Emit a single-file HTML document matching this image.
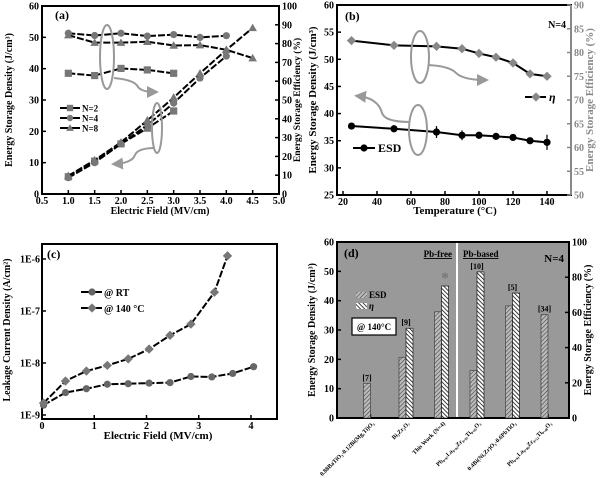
<!DOCTYPE html>
<html><head><meta charset="utf-8"><style>
body{margin:0;background:#fff}
svg{display:block;font-family:"Liberation Serif",serif;font-weight:bold}
</style></head><body>
<svg id="s" width="600" height="478" viewBox="0 0 600 478"></svg>
<script>
// ---- data panel a ----
const aFieldN2=[1,1.5,2,2.5,3];
const aEsdN2=[5.5,10.5,16,21,26.5];
const aEffN2=[64.2,63,66.8,66,64.2];
const aFieldN4=[1,1.5,2,2.5,3,3.5,4];
const aEsdN4=[5.2,10,16,22,29,37,44];
const aEffN4=[85.5,84.3,85.5,84,84.8,83.3,84.2];
const aFieldN8=[1,1.5,2,2.5,3,3.5,4,4.5];
const aEsdN8=[5.8,10.8,16.5,23.5,30.8,38.5,46,53];
const aEffN8=[84.5,80.5,80.5,81,79,79.2,76.7,72.3];
const aXTicks=[0.5,1,1.5,2,2.5,3,3.5,4,4.5,5];
const aYTicks=[0,10,20,30,40,50,60];
const aY2Ticks=[0,10,20,30,40,50,60,70,80,90,100];
// ---- data panel b ----
const bTemp=[25,50,75,90,100,110,120,130,140];
const bEsd=[37.7,37.2,36.6,36,36,35.8,35.6,35,34.7];
const bEsdErr=[0.6,0.4,1.1,0.9,0.4,0.6,0.4,0.5,1.4];
const bEff=[82.5,81.5,81.3,80.8,79.8,79,77.8,75.5,75];
const bEffErr=[0.7,0.6,0.5,0.4,0.4,0.4,0.4,0.4,0.8];
const bXTicks=[20,40,60,80,100,120,140];
const bYTicks=[25,30,35,40,45,50,55,60];
const bY2Ticks=[50,55,60,65,70,75,80,85,90];
// ---- data panel c ----
const cFieldRT=[0.03,0.45,0.85,1.25,1.65,2.05,2.45,2.85,3.25,3.65,4.05];
const cLeakRT=[1.55e-9,2.7e-9,3.2e-9,3.9e-9,4.0e-9,4.1e-9,4.2e-9,5.5e-9,5.4e-9,6.3e-9,8.5e-9];
const cFieldHot=[0.03,0.45,0.85,1.25,1.65,2.05,2.45,2.85,3.3,3.55];
const cLeakHot=[1.7e-9,4.5e-9,7e-9,9e-9,1.2e-8,1.85e-8,3.4e-8,5.6e-8,2.3e-7,1.15e-6];
const cXTicks=[0,1,2,3,4];
const cYTicks=[-9,-8,-7,-6];
// ---- data panel d ----
const dCats=["0.88BaTiO3-0.12Bi(Mg,Ti)O3","Bi2Zr2O7","This Work (N=4)","Pb0.97La0.02Zr0.95Ti0.05O3","0.4Bi(Ni,Zr)O3-0.6PbTiO3","Pb0.91La0.06Zr0.52Ti0.48O3"];
const dCatLabels=["0.88BaTiO₃-0.12Bi(Mg,Ti)O₃","Bi₂Zr₂O₇","This Work (N=4)","Pb₀.₉₇La₀.₀₂Zr₀.₉₅Ti₀.₀₅O₃","0.4Bi(Ni,Zr)O₃-0.6PbTiO₃","Pb₀.₉₁La₀.₀₆Zr₀.₅₂Ti₀.₄₈O₃"];
const dRefs=["[7]","[9]","","[10]","[5]","[34]"];
const dEsd=[11.8,20.7,36.2,16.2,38.2,35.2];
const dEff=[null,51,75,83,71,null];
const dYTicks=[0,10,20,30,40,50,60];
const dY2Ticks=[0,20,40,60,80,100];

const S=document.getElementById('s');const NS='http://www.w3.org/2000/svg';
function el(t,a,p){const e=document.createElementNS(NS,t);for(const k in a)e.setAttribute(k,a[k]);(p||S).appendChild(e);return e;}
function txt(x,y,s,a,p){const e=el('text',Object.assign({x:x,y:y,'font-size':10,'text-anchor':'middle'},a||{}),p);e.textContent=s;return e;}
function lin(d0,d1,r0,r1){return v=>r0+(v-d0)*(r1-r0)/(d1-d0);}
function defs(){const d=el('defs',{});
 const p1=el('pattern',{id:'h1',width:3,height:3,patternUnits:'userSpaceOnUse',patternTransform:'rotate(45)'},d);
 el('rect',{width:3,height:3,fill:'#bbb'},p1);el('line',{x1:0,y1:0,x2:0,y2:3,stroke:'#444','stroke-width':1.2},p1);
 const p2=el('pattern',{id:'h2',width:3,height:3,patternUnits:'userSpaceOnUse',patternTransform:'rotate(-45)'},d);
 el('rect',{width:3,height:3,fill:'#fff'},p2);el('line',{x1:0,y1:0,x2:0,y2:3,stroke:'#111','stroke-width':1.6},p2);
 const m=el('marker',{id:'arr',markerWidth:6,markerHeight:6,refX:4,refY:3,orient:'auto'},d);el('path',{d:'M0,0L6,3L0,6Z',fill:'#999'},m);}
defs();
function frame(L,T,R,B,name){const g=el('g',{});
 el('rect',{x:L,y:T,width:R-L,height:B-T,fill:'none',stroke:'#000','stroke-width':2},g);return g;}
function marker(g,type,x,y,fill,r){r=r||3.6;let e;
 if(type==='sq')e=el('rect',{x:x-r,y:y-r,width:2*r,height:2*r,fill:fill},g);
 else if(type==='ci')e=el('circle',{cx:x,cy:y,r:r,fill:fill},g);
 else if(type==='tri')e=el('path',{d:`M${x},${y-r*1.2}L${x+r*1.2},${y+r*0.9}L${x-r*1.2},${y+r*0.9}Z`,fill:fill},g);
 else if(type==='dia')e=el('path',{d:`M${x},${y-r*1.3}L${x+r*1.3},${y}L${x},${y+r*1.3}L${x-r*1.3},${y}Z`,fill:fill},g);
 }
function series(g,xs,ys,sx,sy,type,fill,name,col,dash){const gg=el('g',{},g);
 el('polyline',{points:xs.map((x,i)=>sx(x)+','+sy(ys[i])).join(' '),fill:'none',stroke:col||'#000','stroke-width':2,'stroke-dasharray':dash||'7,2'},gg);
 xs.forEach((x,i)=>marker(gg,type,sx(x),sy(ys[i]),fill));return gg;}
function xAxis(g,ticks,sx,B,fmt,len){ticks.forEach(t=>{el('line',{x1:sx(t),y1:B,x2:sx(t),y2:B-(len||4),stroke:'#000','stroke-width':1.5},g);txt(sx(t),B+10,fmt(t),{},g);});}
function yAxis(g,ticks,sy,X,dir,fmt,col){ticks.forEach(t=>{el('line',{x1:X,y1:sy(t),x2:X+dir*4,y2:sy(t),stroke:col||'#000','stroke-width':1.5},g);txt(X-dir*3,sy(t)+3.5,fmt(t),{'text-anchor':dir>0?'end':'start',fill:col||'#000'},g);});}
function vlabel(x,y,s,g,col,size){const e=txt(x,y,s,{transform:`rotate(-90 ${x} ${y})`,'font-size':size||10,fill:col||'#000'},g);return e;}

// ===== Panel a =====
(function(){const L=42,T=6,R=279,B=194;const g=frame(L,T,R,B,'panel-a');
 const sx=lin(0.5,5,L,R),sy=lin(0,60,B,T),sy2=lin(0,100,B,T);
 xAxis(g,aXTicks,sx,B,t=>t.toFixed(1));yAxis(g,aYTicks,sy,L,1,t=>t);yAxis(g,aY2Ticks,sy2,R,-1,t=>t);
 txt(160,214,'Electric Field (MV/cm)',{'font-size':10},g);
 vlabel(12,100,'Energy Storage Density (J/cm³)',g);vlabel(300,100,'Energy Storage Efficiency (%)',g,'#000',9.5);
 txt(55,19,'(a)',{'font-size':12,'text-anchor':'start'},g);
 series(g,aFieldN2,aEsdN2,sx,sy,'sq','#777','esd-n2');series(g,aFieldN4,aEsdN4,sx,sy,'ci','#777','esd-n4');series(g,aFieldN8,aEsdN8,sx,sy,'tri','#777','esd-n8');
 series(g,aFieldN2,aEffN2,sx,sy2,'sq','#777','eff-n2');series(g,aFieldN4,aEffN4,sx,sy2,'ci','#777','eff-n4');series(g,aFieldN8,aEffN8,sx,sy2,'tri','#777','eff-n8');
 el('ellipse',{cx:107,cy:57,rx:7,ry:32,fill:'none',stroke:'#999','stroke-width':2},g);
 el('path',{d:'M114,78 Q135,80 138,87 Q142,92 155,92',fill:'none',stroke:'#999','stroke-width':2,'marker-end':'url(#arr)'},g);
 el('ellipse',{cx:157,cy:128,rx:5,ry:25,fill:'none',stroke:'#999','stroke-width':2},g);
 el('path',{d:'M155,148 Q138,148 135,155 Q132,163 115,164',fill:'none',stroke:'#999','stroke-width':2,'marker-end':'url(#arr)'},g);
 const lg=el('g',{},g);
 [['sq','N=2'],['ci','N=4'],['tri','N=8']].forEach((d,i)=>{const y=108+i*10;el('line',{x1:60,y1:y,x2:80,y2:y,stroke:'#000','stroke-width':2},lg);marker(lg,d[0],70,y,'#777',3.2);txt(82,y+3.5,d[1],{'text-anchor':'start','font-size':9},lg);});
})();

// ===== Panel b =====
(function(){const L=337,T=5,R=571,B=195;const g=frame(L,T,R,B,'panel-b');
 const sx=lin(20,140,343,547),sy=lin(25,60,B,T),sy2=lin(50,90,B,T);const gc='#888';
 xAxis(g,bXTicks,sx,B,t=>t);yAxis(g,bYTicks,sy,L,1,t=>t);yAxis(g,bY2Ticks,sy2,R,-1,t=>t,gc);
 el('line',{x1:R,y1:T,x2:R,y2:B,stroke:gc,'stroke-width':2},g);
 txt(455,214,'Temperature (°C)',{'font-size':11},g);
 vlabel(316,100,'Energy Storage Density (J/cm³)',g,'#000',11);vlabel(593,100,'Energy Storage Efficiency (%)',g,gc,11);
 txt(345,20,'(b)',{'font-size':12,'text-anchor':'start'},g);txt(566,28,'N=4',{'font-size':10,'text-anchor':'end'},g);
 bTemp.forEach((t,i)=>{el('line',{x1:sx(t),y1:sy(bEsd[i]-bEsdErr[i]),x2:sx(t),y2:sy(bEsd[i]+bEsdErr[i]),stroke:'#000','stroke-width':1.2},g);
  el('line',{x1:sx(t),y1:sy2(bEff[i]-bEffErr[i]),x2:sx(t),y2:sy2(bEff[i]+bEffErr[i]),stroke:gc,'stroke-width':1.2},g);});
 series(g,bTemp,bEsd,sx,sy,'ci','#000','esd-series','#000','none');series(g,bTemp,bEff,sx,sy2,'dia',gc,'efficiency-series','#000','none');
 el('ellipse',{cx:420,cy:57,rx:9,ry:26,fill:'none',stroke:'#999','stroke-width':2},g);
 el('path',{d:'M428,65 Q448,66 455,72 Q462,80 485,80',fill:'none',stroke:'#999','stroke-width':2,'marker-end':'url(#arr)'},g);
 el('ellipse',{cx:418,cy:130,rx:9,ry:25,fill:'none',stroke:'#999','stroke-width':2},g);
 el('path',{d:'M410,122 Q385,122 382,113 Q378,98 358,96',fill:'none',stroke:'#999','stroke-width':2,'marker-end':'url(#arr)'},g);
 const l1=el('g',{},g);
 el('line',{x1:353,y1:148,x2:375,y2:148,stroke:'#000','stroke-width':2},l1);marker(l1,'ci',364,148,'#000');txt(378,152,'ESD',{'text-anchor':'start','font-size':12},l1);
 const l2=el('g',{},g);
 el('line',{x1:525,y1:97,x2:546,y2:97,stroke:'#000','stroke-width':2},l2);marker(l2,'dia',536,97,gc);txt(549,101,'η',{'text-anchor':'start','font-size':12,'font-style':'italic'},l2);
})();

// ===== Panel c =====
(function(){const L=42,T=244,R=277,B=419;const g=frame(L,T,R,B,'panel-c');
 const sx=lin(0,4,42,251);const sl=lin(-9,-6,415,259);const sy=v=>sl(Math.log10(v));
 xAxis(g,cXTicks,sx,B,t=>t);
 cYTicks.forEach(t=>{el('line',{x1:L,y1:sl(t),x2:L+4,y2:sl(t),stroke:'#000','stroke-width':1.5},g);txt(L-2,sl(t)+3.5,'1E'+t,{'text-anchor':'end','font-size':10},g);});
 txt(158,439,'Electric Field (MV/cm)',{'font-size':11},g);
 vlabel(10,330,'Leakage Current Density (A/cm²)',g,'#000',10);
 txt(47,258,'(c)',{'font-size':12,'text-anchor':'start'},g);
 series(g,cFieldRT,cLeakRT,sx,sy,'ci','#666','rt-series');series(g,cFieldHot,cLeakHot,sx,sy,'dia','#777','140c-series');
 const lg=el('g',{},g);
 el('line',{x1:81,y1:292,x2:102,y2:292,stroke:'#000','stroke-width':2},lg);marker(lg,'ci',92,292,'#666');txt(104,296,'@ RT',{'text-anchor':'start','font-size':10},lg);
 el('line',{x1:81,y1:308,x2:102,y2:308,stroke:'#000','stroke-width':2},lg);marker(lg,'dia',92,308,'#777');txt(104,312,'@ 140 °C',{'text-anchor':'start','font-size':10},lg);
})();

// ===== Panel d =====
(function(){const L=337,T=242,R=569,B=418;const g=frame(L,T,R,B,'panel-d');
 el('rect',{x:L+1,y:T+1,width:R-L-2,height:B-T-2,fill:'#999'},g);
 el('line',{x1:457,y1:T,x2:457,y2:B,stroke:'#fff','stroke-width':2},g);
 el('rect',{x:L,y:T,width:R-L,height:B-T,fill:'none',stroke:'#000','stroke-width':2},g);
 const sy=lin(0,60,B,T),sy2=lin(0,100,B,T);const bw=7;const cx=i=>370.5+35.5*i;
 yAxis(g,dYTicks,sy,L,1,t=>t);yAxis(g,dY2Ticks,sy2,R,-1,t=>t);
 dCats.forEach((c,i)=>{el('line',{x1:cx(i),y1:B,x2:cx(i),y2:B-4,stroke:'#000','stroke-width':1.5},g);
  const b=el('rect',{x:cx(i)-bw,y:sy(dEsd[i]),width:bw,height:B-sy(dEsd[i]),fill:'url(#h1)',stroke:'#333','stroke-width':0.6},g);
  
  let top=sy(dEsd[i]);
  if(dEff[i]!=null){const e=el('rect',{x:cx(i),y:sy2(dEff[i]),width:bw,height:B-sy2(dEff[i]),fill:'url(#h2)',stroke:'#000','stroke-width':0.6},g);
   top=Math.min(top,sy2(dEff[i]));}
  if(dRefs[i])txt(cx(i)-(dEff[i]!=null&&i!==3?0:bw/2)+(i===3?bw/2:0),top-3,dRefs[i],{'font-size':8},g);
  const lx=cx(i)+4,ly=B+6;txt(lx,ly,dCatLabels[i],{'text-anchor':'end','font-size':6,transform:`rotate(-45 ${lx} ${ly})`},g);
 });
 txt(cx(2)+bw/2,sy2(dEff[2])-3,'*',{'font-size':16,fill:'#777'},g);
 txt(344,257,'(d)',{'font-size':12,'text-anchor':'start'},g);
 txt(452,257,'Pb-free',{'font-size':9,'text-anchor':'end','text-decoration':'underline'},g);
 txt(463,257,'Pb-based',{'font-size':9,'text-anchor':'start','text-decoration':'underline'},g);
 txt(564,262,'N=4',{'font-size':11,'text-anchor':'end'},g);
 const lg=el('g',{},g);
 el('rect',{x:356,y:292,width:11,height:6,fill:'url(#h1)'},lg);txt(369,298,'ESD',{'text-anchor':'start','font-size':9},lg);
 el('rect',{x:356,y:303,width:11,height:6,fill:'url(#h2)'},lg);txt(369,309,'η',{'text-anchor':'start','font-size':9,'font-style':'italic'},lg);
 el('rect',{x:352,y:318,width:44,height:17,fill:'#fff',stroke:'#000','stroke-width':1.2},lg);txt(374,330,'@ 140°C',{'font-size':9},lg);
 vlabel(315,330,'Energy Storage Density (J/cm³)',g,'#000',10);vlabel(591,330,'Energy Storage Efficiency (%)',g,'#000',10);
})();
</script>
</body></html>
